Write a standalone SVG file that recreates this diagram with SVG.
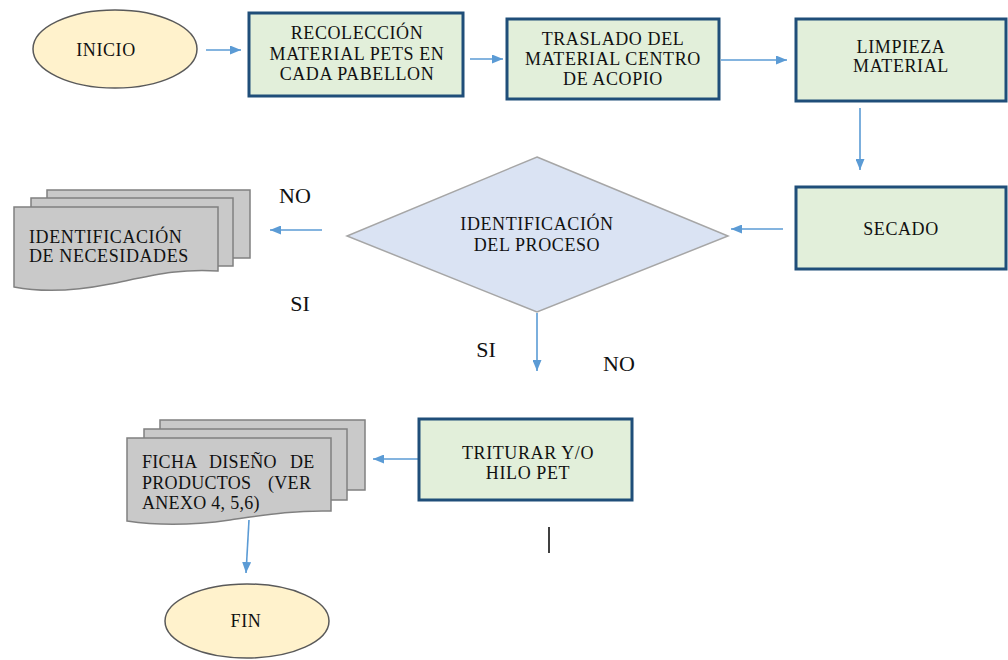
<svg xmlns="http://www.w3.org/2000/svg" width="1008" height="660" viewBox="0 0 1008 660">
<style>
text{font-family:'Liberation Serif','Times New Roman',serif;font-size:18px;fill:#111;letter-spacing:0.6px;}
.c{text-anchor:middle;}
.lbl{font-size:22px;letter-spacing:0;}
.box{fill:#E2EFDA;stroke:#1F4E79;stroke-width:3;}
.term{fill:#FFF2CC;stroke:#595959;stroke-width:1.5;}
.doc{fill:#C9C9C9;stroke:#808080;stroke-width:1.5;}
.dec{fill:#DAE3F3;stroke:#A6A6A6;stroke-width:1.5;}
.arr{stroke:#5B9BD5;stroke-width:1.6;fill:none;marker-end:url(#ah);}
</style>
<defs>
<marker id="ah" markerUnits="userSpaceOnUse" markerWidth="11" markerHeight="9" refX="11" refY="4.5" orient="auto">
<path d="M0,0 L11,4.5 L0,9 Z" fill="#5B9BD5"/>
</marker>
</defs>
<rect width="1008" height="660" fill="#fff"/>
<g id="connectors">
<line class="arr" x1="206" y1="50" x2="241" y2="50"/>
<line class="arr" x1="470" y1="59" x2="503" y2="59"/>
<line class="arr" x1="721" y1="60" x2="787" y2="60"/>
<line class="arr" x1="860" y1="108" x2="860" y2="170"/>
<line class="arr" x1="783" y1="229" x2="731" y2="229"/>
<line class="arr" x1="322" y1="230" x2="270" y2="230"/>
<line class="arr" x1="537" y1="313" x2="537" y2="371"/>
<line class="arr" x1="425" y1="459" x2="373" y2="459"/>
<line class="arr" x1="249" y1="520" x2="246" y2="573"/>
<line x1="549" y1="527" x2="549" y2="553" stroke="#000" stroke-width="1.5"/>
</g>
<g id="inicio">
<ellipse class="term" cx="115" cy="49" rx="82" ry="39"/>
<text class="c" x="106" y="56">INICIO</text>
</g>
<g id="recoleccion">
<rect class="box" x="249" y="13" width="214" height="83"/>
<text class="c" x="357" y="39">RECOLECCIÓN</text>
<text class="c" x="357" y="60">MATERIAL PETS EN</text>
<text class="c" x="357" y="80">CADA PABELLON</text>
</g>
<g id="traslado">
<rect class="box" x="507" y="19" width="212" height="80"/>
<text class="c" x="613" y="45">TRASLADO DEL</text>
<text class="c" x="613" y="65">MATERIAL CENTRO</text>
<text class="c" x="613" y="85">DE ACOPIO</text>
</g>
<g id="limpieza">
<rect class="box" x="796" y="19" width="210" height="82"/>
<text class="c" x="901" y="53">LIMPIEZA</text>
<text class="c" x="901" y="72">MATERIAL</text>
</g>
<g id="secado">
<rect class="box" x="796" y="187" width="210" height="82"/>
<text class="c" x="901" y="235">SECADO</text>
</g>
<g id="identificacion-proceso">
<polygon class="dec" points="537,157 728,236 537,312 347,236"/>
<text class="c" x="537" y="230">IDENTIFICACIÓN</text>
<text class="c" x="537" y="251">DEL PROCESO</text>
</g>
<g id="identificacion-necesidades">
<rect class="doc" x="47" y="190" width="203" height="68"/>
<rect class="doc" x="31" y="198" width="202" height="68"/>
<path class="doc" d="M14,207 H218 V271 C180,268 150,276 110,284 C75,291 40,292 14,287 Z"/>
<text x="29" y="243">IDENTIFICACIÓN</text>
<text x="29" y="262">DE NECESIDADES</text>
</g>
<g id="labels">
<text class="lbl c" x="295" y="203">NO</text>
<text class="lbl c" x="300" y="311">SI</text>
<text class="lbl c" x="486" y="357">SI</text>
<text class="lbl c" x="619" y="371">NO</text>
</g>
<g id="triturar">
<rect class="box" x="419" y="419" width="213" height="81"/>
<text class="c" x="528" y="459">TRITURAR Y/O</text>
<text class="c" x="528" y="479">HILO PET</text>
</g>
<g id="ficha">
<rect class="doc" x="160" y="420" width="205" height="70"/>
<rect class="doc" x="144" y="429" width="203" height="71"/>
<path class="doc" d="M127,438 H331 V511 C295,510 265,515 230,520 C195,525 160,526 127,521 Z"/>
<text x="142" y="468" font-size="17" style="letter-spacing:0.3px">FICHA<tspan x="209">DISEÑO</tspan><tspan x="290">DE</tspan></text>
<text x="142" y="489" font-size="17" style="letter-spacing:0.3px">PRODUCTOS<tspan x="268">(VER</tspan></text>
<text x="142" y="509" font-size="17" style="letter-spacing:0.3px">ANEXO 4, 5,6)</text>
</g>
<g id="fin">
<ellipse class="term" cx="247" cy="621" rx="82" ry="37"/>
<text class="c" x="246" y="627">FIN</text>
</g>
</svg>
